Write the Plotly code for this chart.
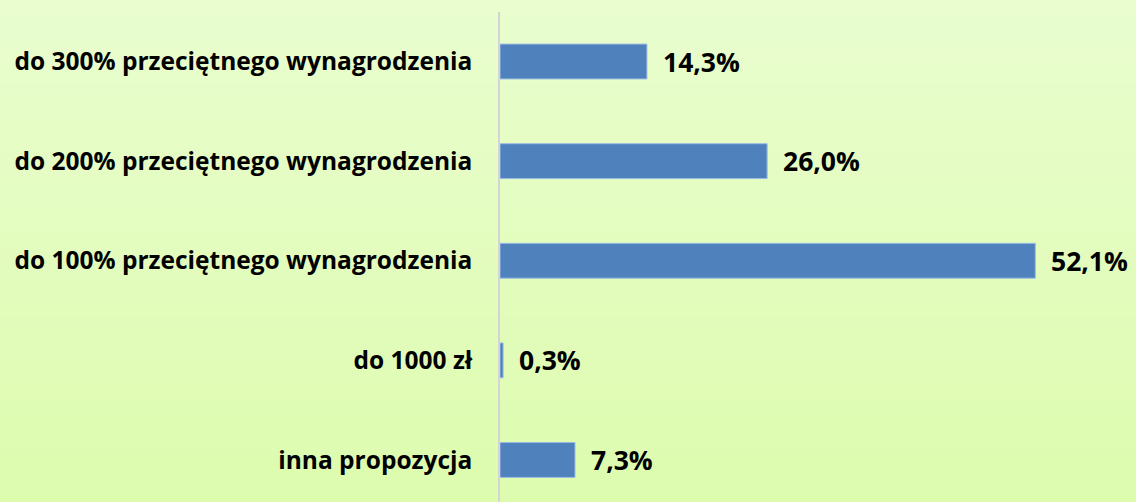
import plotly.graph_objects as go

categories = [
    "inna propozycja",
    "do 1000 zł",
    "do 100% przeciętnego wynagrodzenia",
    "do 200% przeciętnego wynagrodzenia",
    "do 300% przeciętnego wynagrodzenia",
]
values = [7.3, 0.3, 52.1, 26.0, 14.3]
value_labels = ["7,3%", "0,3%", "52,1%", "26,0%", "14,3%"]

W, H = 1136, 502
L, R, T, B = 500, 0, 12, 0
FONT = "Open Sans"

fig = go.Figure()
fig.add_trace(go.Bar(
    x=values, y=categories, orientation="h",
    width=0.35,
    marker=dict(color="#4F81BD", line=dict(color="#9BBBE3", width=1)),
    hoverinfo="skip",
))

for v, c, t in zip(values, categories, value_labels):
    fig.add_annotation(x=v, y=c, xref="x", yref="y", text=f"<b>{t}</b>",
                       showarrow=False, xanchor="left", yanchor="middle",
                       xshift=14, font=dict(family=FONT, size=26.5, color="#000000"))

# vertical gradient background
top = (233, 253, 207)
bot = (221, 252, 174)
pw, ph = W - L - R, H - T - B
n = 60
x0p = -L / pw
ytop = 1 + T / ph
ybot = -B / ph
shapes = []
for i in range(n):
    f = (i + 0.5) / n
    col = tuple(round(top[k] + (bot[k] - top[k]) * f) for k in range(3))
    y1 = ytop - (ytop - ybot) * i / n
    y0 = ytop - (ytop - ybot) * (i + 1) / n
    shapes.append(dict(type="rect", xref="paper", yref="paper", x0=x0p, x1=1,
                       y0=y0 - 0.002, y1=y1 + 0.002, layer="below",
                       line=dict(width=0), fillcolor="rgb(%d,%d,%d)" % col))

fig.update_layout(
    width=W, height=H,
    margin=dict(l=L, r=R, t=T, b=B, pad=0),
    paper_bgcolor="rgba(0,0,0,0)",
    plot_bgcolor="rgba(0,0,0,0)",
    showlegend=False,
    shapes=shapes,
    xaxis=dict(range=[0, 61.9], visible=False, fixedrange=True),
    yaxis=dict(range=[-0.4217, 4.497], showline=True, linecolor="#D4D4D4",
               linewidth=1.5, showgrid=False, zeroline=False, ticks="",
               ticklabelstandoff=21,
               tickfont=dict(family=FONT, size=24.5, color="#000000", weight="bold"),
               fixedrange=True),
)

fig.write_html("out.html", config={"displayModeBar": False},
               post_script="document.body.style.margin='0';document.body.style.overflow='hidden';document.body.style.background='rgb(227,253,190)';")
